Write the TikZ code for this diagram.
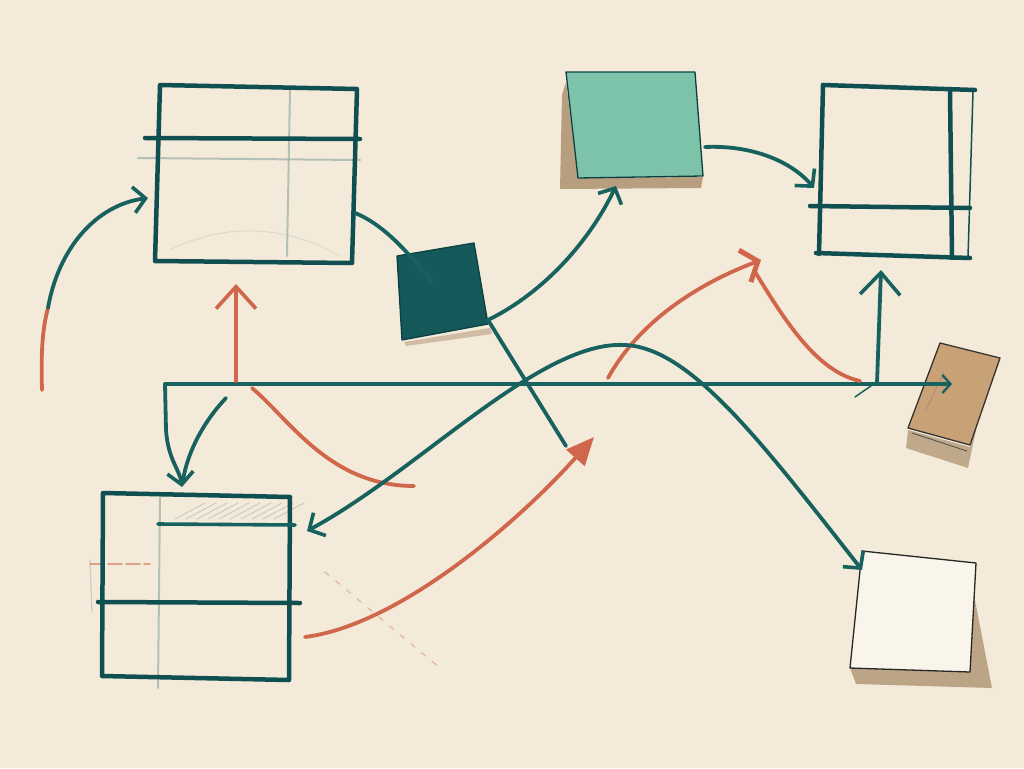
\documentclass[tikz,border=0pt]{standalone}
\usetikzlibrary{arrows.meta}
\definecolor{paper}{HTML}{F4EADA}
\definecolor{dteal}{HTML}{0F4F52}
\definecolor{mteal}{HTML}{17625F}
\definecolor{orng}{HTML}{D0664A}
\definecolor{pgray}{HTML}{9FB2AB}
\definecolor{gfill}{HTML}{7DC3AA}
\definecolor{sqfill}{HTML}{15595A}
\definecolor{tanfill}{HTML}{C9A176}
\definecolor{shad}{HTML}{B79E7E}
\definecolor{wfill}{HTML}{FAF5EA}
\begin{document}
\begin{tikzpicture}[x=1pt,y=-1pt,line cap=round,line join=round,
  boxline/.style={draw=dteal,line width=4.5pt},
  thinbox/.style={draw=dteal!80!black,line width=1.3pt},
  pencil/.style={draw=pgray,line width=2pt,opacity=0.75},
  tline/.style={draw=mteal,line width=3.8pt},
  oline/.style={draw=orng,line width=3.8pt},
  barb/.style={-{Straight Barb[length=12pt,width=26pt,line width=3.6pt]}},
  obarb/.style={-{Straight Barb[length=14pt,width=34pt,line width=5pt]}},
  bigbarb/.style={-{Straight Barb[length=22pt,width=40pt,line width=3.6pt]}},
  smallbarb/.style={-{Straight Barb[length=8pt,width=18pt,line width=2.4pt]}},
  otri/.style={-{Triangle[length=28pt,width=24pt]}}
]
\useasboundingbox (0,0) rectangle (1024,768);
\fill[paper] (0,0) rectangle (1024,768);

% ---------- box A (top left)
\coordinate (A1) at (160,85); \coordinate (A2) at (357,89);
\coordinate (A3) at (352,263); \coordinate (A4) at (155,261);
\draw[pencil] (290,90) -- (287,256);
\draw[pencil] (138,158) -- (360,160);
\draw[pencil,opacity=0.3,line width=1pt] (170,250) .. controls (220,225) and (280,222) .. (340,256);
\draw[boxline] (A1) -- (A2) -- (A3) -- (A4) -- cycle;
\draw[boxline] (145,138) -- (360,139);
\coordinate (Aleft) at (148,198);
\coordinate (Aright) at (355,213);
\coordinate (Abot) at (236,284);

% ---------- dark square
\coordinate (S1) at (397,256); \coordinate (S2) at (474,243);
\coordinate (S3) at (488,324); \coordinate (S4) at (402,340);
\fill[shad,opacity=0.6] (404,342) -- (490,328) -- (492,334) -- (406,346) -- cycle;
\fill[sqfill] (S1) -- (S2) -- (S3) -- (S4) -- cycle;
\draw[thinbox] (S1) -- (S2) -- (S3) -- (S4) -- cycle;
\coordinate (Sin) at (432,282);
\coordinate (Sout) at (488,320);

% ---------- green box
\coordinate (G1) at (566,72); \coordinate (G2) at (695,72);
\coordinate (G3) at (703,176); \coordinate (G4) at (578,178);
\fill[shad] (562,95) -- (566,82) -- (578,178) -- (703,177) -- (701,188) -- (560,189) -- cycle;
\fill[gfill] (G1) -- (G2) -- (G3) -- (G4) -- cycle;
\draw[thinbox] (G1) -- (G2) -- (G3) -- (G4) -- cycle;
\coordinate (Gbot) at (616,186);
\coordinate (Gright) at (705,147);

% ---------- box C (top right)
\draw[draw=dteal,line width=1.5pt] (973,91) -- (968,257);
\draw[boxline] (823,85) -- (975,90);
\draw[boxline] (823,85) -- (819,254);
\draw[boxline] (816,253) -- (970,258);
\draw[boxline] (950,92) -- (952,258);
\draw[boxline] (810,206) -- (970,208);
\coordinate (Cleft) at (814,188);
\coordinate (Cbot) at (881,270);

% ---------- tan note
\coordinate (T1) at (940,343); \coordinate (T2) at (1000,358);
\coordinate (T3) at (970,445); \coordinate (T4) at (908,428);
\fill[shad,opacity=0.85] (908,430) -- (970,447) -- (977,425) -- (968,468) -- (906,448) -- cycle;
\fill[tanfill] (T1) -- (T2) -- (T3) -- (T4) -- cycle;
\draw[thinbox,draw=black!80] (T1) -- (T2) -- (T3) -- (T4) -- cycle;
\draw[draw=black!70,line width=0.8pt] (912,433) -- (967,451);
\draw[draw=black!50,line width=0.6pt,opacity=0.6] (944,372) -- (926,410);
\coordinate (Tin) at (952,384);

% ---------- white note
\coordinate (W1) at (862,551); \coordinate (W2) at (976,563);
\coordinate (W3) at (970,672); \coordinate (W4) at (850,668);
\fill[shad,opacity=0.9] (972,585) -- (992,688) -- (856,684) -- (850,668) -- (970,672) -- cycle;
\fill[wfill] (W1) -- (W2) -- (W3) -- (W4) -- cycle;
\draw[thinbox,draw=black!85] (W1) -- (W2) -- (W3) -- (W4) -- cycle;
\coordinate (Win) at (862,570);

% ---------- box D (bottom left)
\coordinate (D1) at (103,493); \coordinate (D2) at (290,497);
\coordinate (D3) at (289,680); \coordinate (D4) at (102,676);
\foreach \i in {0,1,...,9}{
  \draw[draw=pgray,line width=1pt,opacity=0.5] (175+\i*11,519) -- (205+\i*11,503);
}
\draw[pencil] (160,497) -- (158,688);
\draw[pencil,line width=1.2pt,opacity=0.5] (90,560) -- (92,612);
\draw[draw=orng,line width=1.5pt,opacity=0.55,dash pattern=on 14pt off 4pt] (90,564) -- (150,564);
\draw[boxline] (D1) -- (D2) -- (D3) -- (D4) -- cycle;
\draw[draw=mteal,line width=3.6pt] (158,524) -- (295,525);
\draw[boxline] (98,602) -- (300,603);
\coordinate (Dtop) at (182,487);
\coordinate (Dright) at (307,531);
\coordinate (Dout) at (305,637);

% faint orange specks
\draw[draw=orng,line width=1.5pt,opacity=0.35,dash pattern=on 5pt off 9pt] (325,572) -- (440,668);

% ---------- connectors
% left arrow into A (orange fading to teal)
\coordinate (L0) at (42,390); \coordinate (L1) at (48,308);
\draw[oline] (L0) .. controls (41,355) and (42,330) .. (L1);
\draw[tline,barb] (L1) .. controls (58,250) and (95,205) .. (Aleft);

% A to dark square
\draw[tline] (Aright) .. controls (385,225) and (410,255) .. (Sin);
% dark square down to crossing
\coordinate (X1) at (566,446);
\draw[tline] (Sout) -- (X1);
% dark square up to green box
\draw[tline,barb] (Sout) .. controls (545,292) and (590,240) .. (Gbot);
% green to C
\draw[tline,barb] (Gright) .. controls (750,145) and (790,160) .. (Cleft);

% main horizontal line
\coordinate (H0) at (165,384);
\draw[tline,smallbarb] (H0) -- (Tin);
\draw[tline,barb] (H0) -- (166,430) .. controls (168,460) and (180,470) .. (Dtop);
\draw[tline] (226,398) .. controls (205,420) and (188,450) .. (183,480);

% up arrow into C
\coordinate (U0) at (877,383);
\draw[tline,bigbarb] (U0) -- (Cbot);
\draw[draw=mteal,line width=1.5pt] (855,397) -- (878,381);

% orange up arrow into A
\draw[oline,bigbarb] (236,381) -- (Abot);
% orange S curve
\draw[oline] (252,388) .. controls (290,420) and (330,486) .. (414,486);
% orange from D up to crossing
\draw[oline,otri] (Dout) .. controls (400,625) and (520,520) .. (594,437);
% orange rising arrow and descending curve
\draw[oline,obarb] (608,378) .. controls (640,320) and (700,283) .. (761,260);
\draw[oline] (754,270) .. controls (790,330) and (820,372) .. (860,381);

% big teal wave, double headed
\coordinate (P) at (625,345);
\draw[tline,{Straight Barb[length=12pt,width=26pt,line width=3.6pt]}-] (Dright) .. controls (420,470) and (540,340) .. (P);
\draw[tline,barb] (P) .. controls (690,348) and (760,440) .. (Win);
\end{tikzpicture}
\end{document}
